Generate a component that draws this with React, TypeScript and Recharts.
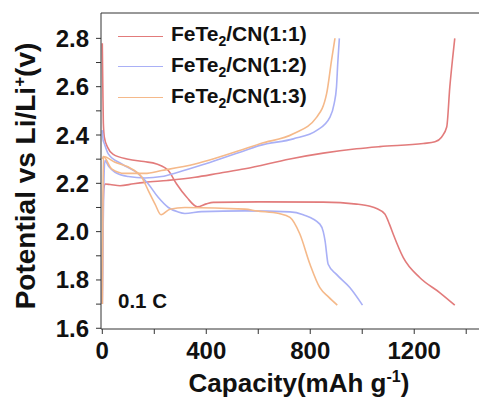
import { LineChart, Line, XAxis, YAxis, ReferenceLine, Label } from 'recharts';

const FONT = '"Liberation Sans", Arial, sans-serif';
const RED = '#e27b7b';
const BLUE = '#a9b0f6';
const ORANGE = '#f5b98a';

const X_TICKS = [0, 200, 400, 600, 800, 1000, 1200, 1400];
const Y_TICKS = [1.6, 1.7, 1.8, 1.9, 2.0, 2.1, 2.2, 2.3, 2.4, 2.5, 2.6, 2.7, 2.8];
const X_DOMAIN = [-5, 1480];
const Y_DOMAIN = [1.597, 2.905];

// FeTe2/CN(1:1)
const RED_DIS_CAP = [0, 2, 4, 8, 20, 42, 100, 160, 209, 254, 286, 325, 366, 400, 427, 600, 850, 978, 1030, 1055, 1087, 1105, 1119, 1158, 1222, 1299, 1356];
const RED_DIS_V = [2.78, 2.6, 2.45, 2.39, 2.35, 2.32, 2.3, 2.29, 2.28, 2.253, 2.197, 2.142, 2.103, 2.115, 2.121, 2.123, 2.122, 2.114, 2.105, 2.096, 2.073, 2.03, 1.99, 1.892, 1.809, 1.747, 1.696];
const RED_CHG_CAP = [0, 1, 3, 6, 12, 30, 68, 120, 164, 250, 357, 450, 549, 722, 850, 978, 1068, 1235, 1280, 1305, 1325, 1337, 1348, 1356];
const RED_CHG_V = [1.7, 1.9, 2.1, 2.18, 2.197, 2.195, 2.19, 2.198, 2.204, 2.212, 2.225, 2.242, 2.26, 2.301, 2.325, 2.343, 2.352, 2.365, 2.372, 2.391, 2.433, 2.599, 2.72, 2.8];

// FeTe2/CN(1:2)
const BLUE_DIS_CAP = [0, 3, 8, 23, 75, 139, 177, 215, 254, 290, 318, 382, 549, 722, 773, 837, 850, 857, 869, 901, 953, 1001];
const BLUE_DIS_V = [2.42, 2.38, 2.364, 2.322, 2.28, 2.239, 2.197, 2.142, 2.1, 2.082, 2.075, 2.083, 2.086, 2.082, 2.07, 2.031, 2.0, 1.962, 1.865, 1.823, 1.768, 1.696];
const BLUE_CHG_CAP = [0, 3, 6, 10, 25, 49, 100, 164, 228, 292, 395, 549, 607, 735, 825, 876, 892, 901, 906, 912];
const BLUE_CHG_V = [1.7, 2.0, 2.2, 2.294, 2.27, 2.246, 2.228, 2.222, 2.228, 2.246, 2.28, 2.336, 2.357, 2.384, 2.419, 2.474, 2.53, 2.599, 2.7, 2.8];

// FeTe2/CN(1:3)
const ORANGE_DIS_CAP = [0, 4, 49, 113, 152, 177, 203, 226, 260, 318, 549, 594, 680, 722, 760, 799, 837, 870, 904];
const ORANGE_DIS_V = [2.3, 2.311, 2.287, 2.26, 2.225, 2.17, 2.114, 2.07, 2.093, 2.1, 2.093, 2.086, 2.075, 2.059, 1.99, 1.865, 1.768, 1.73, 1.696];
const ORANGE_CHG_CAP = [0, 2, 4, 36, 87, 164, 228, 357, 549, 607, 735, 825, 863, 882, 895];
const ORANGE_CHG_V = [1.7, 2.0, 2.311, 2.26, 2.241, 2.241, 2.253, 2.28, 2.343, 2.364, 2.405, 2.474, 2.571, 2.71, 2.8];

const SERIES_NAMES = ['FeTe', '/CN(1:1)', '/CN(1:2)', '/CN(1:3)'];

const toPoints = (cap: number[], v: number[]) => cap.map((c, i) => ({ x: c, y: v[i] }));

const curves = [
  { key: 'red-dis', color: RED, data: toPoints(RED_DIS_CAP, RED_DIS_V) },
  { key: 'red-chg', color: RED, data: toPoints(RED_CHG_CAP, RED_CHG_V) },
  { key: 'blue-dis', color: BLUE, data: toPoints(BLUE_DIS_CAP, BLUE_DIS_V) },
  { key: 'blue-chg', color: BLUE, data: toPoints(BLUE_CHG_CAP, BLUE_CHG_V) },
  { key: 'orange-dis', color: ORANGE, data: toPoints(ORANGE_DIS_CAP, ORANGE_DIS_V) },
  { key: 'orange-chg', color: ORANGE, data: toPoints(ORANGE_CHG_CAP, ORANGE_CHG_V) },
];

const legendItems = [
  { color: RED, suffix: SERIES_NAMES[1] },
  { color: BLUE, suffix: SERIES_NAMES[2] },
  { color: ORANGE, suffix: SERIES_NAMES[3] },
];

function XTick({ x, y, payload }: any) {
  if (payload.value % 400 !== 0) return <g />;
  return (
    <text x={x} y={y} dy="0.71em" textAnchor="middle" fontSize={24} fontWeight="bold" fontFamily={FONT} fill="#111">
      {payload.value}
    </text>
  );
}

function YTick({ x, y, payload }: any) {
  if (Math.round(payload.value * 10) % 2 !== 0) return <g />;
  return (
    <text x={x} y={y} dy="0.355em" textAnchor="end" fontSize={24} fontWeight="bold" fontFamily={FONT} fill="#111">
      {payload.value.toFixed(1)}
    </text>
  );
}

function XTitle() {
  return (
    <text x={291} y={384} textAnchor="middle" fontSize={26} fontWeight="bold" fontFamily={FONT} fill="#111">
      Capacity(mAh g<tspan dy={-10} fontSize={16}>-1</tspan><tspan dy={10}>)</tspan>
    </text>
  );
}

function YTitle() {
  return (
    <text x={0} y={0} transform="translate(27,168) rotate(-90)" textAnchor="middle" fontSize={28} fontWeight="bold" fontFamily={FONT} fill="#111">
      Potential vs Li/Li<tspan dy={-10} fontSize={17}>+</tspan><tspan dy={10}>(v)</tspan>
    </text>
  );
}

export default function App() {
  return (
    <div style={{ position: 'relative', width: 479, height: 392, fontFamily: FONT }}>
      <LineChart width={479} height={392} margin={{ top: 5, right: 0, bottom: 21, left: 30 }}>
        <XAxis
          type="number"
          dataKey="x"
          domain={X_DOMAIN}
          ticks={X_TICKS}
          allowDataOverflow
          height={50}
          stroke="#333"
          tickSize={5}
          tickMargin={8}
          tick={<XTick />}
        >
          <Label content={<XTitle />} />
        </XAxis>
        <YAxis
          type="number"
          dataKey="y"
          domain={Y_DOMAIN}
          ticks={Y_TICKS}
          allowDataOverflow
          width={63}
          stroke="#333"
          tickSize={5}
          tickMargin={7}
          tick={<YTick />}
        >
          <Label content={<YTitle />} />
        </YAxis>
        <ReferenceLine y={Y_DOMAIN[1]} stroke="#333" />
        {curves.map(c => (
          <Line
            key={c.key}
            data={c.data}
            dataKey="y"
            type="monotone"
            stroke={c.color}
            strokeWidth={1.6}
            dot={false}
            isAnimationActive={false}
          />
        ))}
      </LineChart>
      {legendItems.map((item, i) => (
        <div
          key={item.suffix}
          style={{ position: 'absolute', left: 110, top: 28 + i * 30.7 - 13, height: 26, display: 'flex', alignItems: 'center' }}
        >
          <div style={{ width: 45, height: 0, borderTop: `1.5px solid ${item.color}` }} />
          <span style={{ marginLeft: 8, fontSize: 21, fontWeight: 'bold', color: '#111', whiteSpace: 'nowrap' }}>
            {SERIES_NAMES[0]}
            <sub style={{ fontSize: 14 }}>2</sub>
            {item.suffix}
          </span>
        </div>
      ))}
      <div style={{ position: 'absolute', left: 110, top: 281, fontSize: 20.5, fontWeight: 'bold', color: '#111' }}>0.1 C</div>
    </div>
  );
}
